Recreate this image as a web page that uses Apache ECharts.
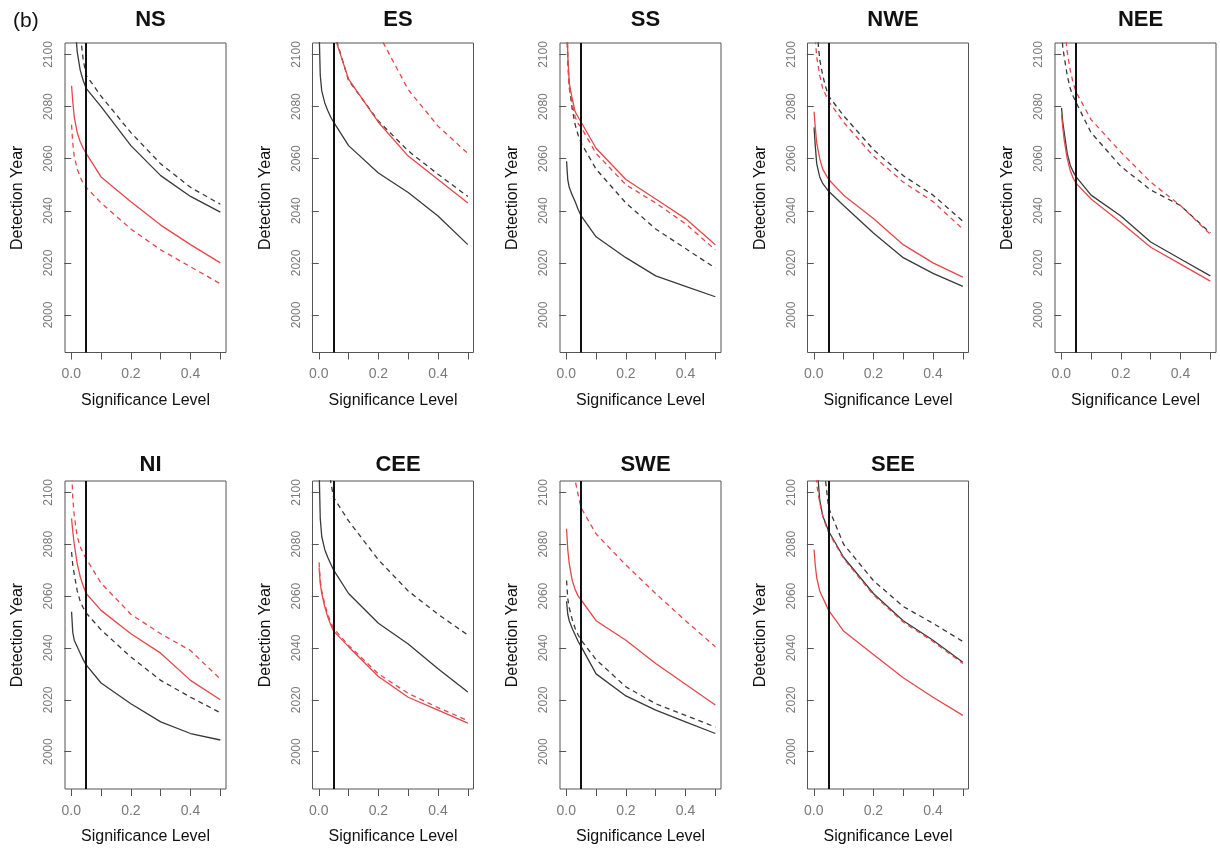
<!DOCTYPE html>
<html>
<head>
<meta charset="utf-8">
<script src="https://cdn.jsdelivr.net/npm/echarts@6/dist/echarts.min.js"></script>
<style>
html,body{margin:0;padding:0;background:#fff;}
#chart{width:1220px;height:850px;}
</style>
</head>
<body>
<div id="chart"></div>
<script>
// Significance levels (x values shared by all curves)
const sigLevels = [0.001, 0.005, 0.01, 0.02, 0.03, 0.04, 0.05, 0.1, 0.2, 0.3, 0.4, 0.5];
const panelNames = ['NS', 'ES', 'SS', 'NWE', 'NEE', 'NI', 'CEE', 'SWE', 'SEE'];
const xTickValues = [0, 0.1, 0.2, 0.3, 0.4, 0.5];
const xLabelValues = [0, 0.2, 0.4];
const yTickValues = [2000, 2020, 2040, 2060, 2080, 2100];
const thresholdLevel = 0.05;

// Detection years, one row per panel (order of panelNames)
const blackSolid = [
  [2160, 2135, 2115, 2101, 2094, 2090, 2087, 2080, 2065, 2053.5, 2045.5, 2039.5], // NS
  [2110, 2092, 2086, 2081.5, 2078.5, 2076, 2074, 2065, 2054.5, 2047, 2038, 2027], // ES
  [2059, 2052, 2049, 2046, 2043.5, 2040.5, 2038, 2030, 2022, 2015, 2011, 2007], // SS
  [2072, 2065, 2058, 2053, 2050.5, 2049, 2047.5, 2042, 2031.5, 2022, 2016, 2011], // NWE
  [2079.5, 2074, 2070, 2062, 2057.5, 2055, 2053, 2046, 2038, 2028, 2021.5, 2015], // NEE
  [2054, 2046, 2043, 2040.5, 2038, 2035.5, 2033.5, 2026.5, 2018.5, 2011.5, 2007, 2004.5], // NI
  [2110, 2090, 2083, 2078, 2075, 2072.5, 2070, 2061, 2049.5, 2041.5, 2032, 2023], // CEE
  [2058, 2053, 2050.5, 2047.5, 2045, 2042.5, 2040.5, 2030, 2021.5, 2016, 2011.5, 2007], // SWE
  [2150, 2125, 2112, 2097, 2091, 2088, 2085, 2075, 2061, 2050.5, 2043, 2034.5]  // SEE
];
const blackDashed = [
  [2200, 2170, 2145, 2120, 2108, 2098, 2092, 2084, 2070, 2058, 2049, 2042.5],
  [2250, 2230, 2210, 2180, 2155, 2135, 2109, 2090, 2074.5, 2063, 2054, 2045.5],
  [2115, 2098, 2088, 2079, 2073, 2069, 2066, 2056, 2043, 2033, 2025.5, 2018],
  [2160, 2130, 2110, 2098, 2092, 2087.5, 2084, 2076.5, 2063.5, 2053.5, 2046, 2036],
  [2108, 2103, 2099, 2092, 2087, 2084, 2081.5, 2070, 2057, 2048, 2042, 2031.5],
  [2077, 2072, 2068.5, 2062, 2058, 2055.5, 2053.5, 2047, 2036.5, 2027.5, 2021, 2015],
  [2220, 2200, 2180, 2150, 2125, 2104, 2098, 2089, 2074, 2062, 2053, 2045],
  [2066, 2059, 2055.5, 2051, 2047.5, 2045, 2043, 2035.5, 2025, 2018.5, 2014, 2009.5],
  [2250, 2220, 2190, 2150, 2120, 2104, 2094, 2080, 2066, 2056, 2049.5, 2042.5]
];
const redSolid = [
  [2088, 2082, 2076, 2070, 2066.5, 2064, 2062, 2053, 2043.5, 2034.5, 2027, 2020],
  [2250, 2230, 2210, 2180, 2155, 2135, 2108, 2090.5, 2074, 2061, 2052, 2043],
  [2130, 2100, 2089, 2083, 2078, 2076, 2074, 2064, 2052, 2044.5, 2037, 2027],
  [2078, 2072, 2066, 2060, 2056, 2054, 2052, 2046, 2037, 2027, 2020, 2014.5],
  [2077, 2072, 2067, 2060, 2055.5, 2052.5, 2050.5, 2044.5, 2035.5, 2026, 2019.5, 2013],
  [2090, 2085, 2080, 2072.5, 2067.5, 2064, 2061, 2054.5, 2045.5, 2038, 2027.5, 2020],
  [2071, 2065, 2061, 2056, 2052, 2049, 2046.5, 2040.5, 2029, 2021, 2016, 2011],
  [2086, 2078, 2072.5, 2066, 2062.5, 2060, 2058.5, 2050.5, 2043, 2034, 2026, 2018],
  [2078, 2072, 2067, 2062, 2059.5, 2057, 2054.5, 2046.5, 2037.5, 2028.5, 2021, 2014]
];
const redDashed = [
  [2073, 2066, 2061, 2056, 2053, 2050.5, 2049, 2043, 2033, 2025, 2018.5, 2012],
  [2400, 2380, 2360, 2330, 2300, 2280, 2260, 2170, 2108, 2086.5, 2072.5, 2062],
  [2125, 2097, 2087, 2081, 2076, 2073.5, 2072, 2062, 2050, 2043, 2035, 2025],
  [2130, 2106, 2099, 2092, 2087, 2084.5, 2082, 2074, 2061, 2051, 2043.5, 2033],
  [2150, 2125, 2112, 2101, 2094, 2089, 2085.5, 2075, 2062.5, 2051, 2042, 2031],
  [2110, 2098, 2091, 2083, 2079, 2076.5, 2074.5, 2065, 2053, 2045.5, 2039, 2028],
  [2073, 2066, 2062, 2057, 2053, 2050, 2047.5, 2041, 2030, 2022.5, 2017, 2012],
  [2180, 2160, 2140, 2115, 2104.5, 2099, 2094, 2084, 2072, 2061, 2050.5, 2040.5],
  [2130, 2112, 2103, 2096, 2091, 2087.5, 2084.5, 2074.5, 2060.5, 2050, 2042.5, 2034]
];

const FONT = '"Liberation Sans", Arial, sans-serif';
const BLACK = '#3a3a3a';
const RED = '#e5474b';

const chart = echarts.init(document.getElementById('chart'), null, {renderer: 'canvas'});

const grids = [], xAxes = [], yAxes = [], series = [], titles = [];
titles.push({text: '(b)', left: 8, top: 6, textStyle: {fontFamily: FONT, fontSize: 21, fontWeight: 'normal', color: '#111'}});

panelNames.forEach((name, i) => {
  const row = i < 5 ? 0 : 1;
  const col = i < 5 ? i : i - 5;
  const left = 65 + 247.5 * col;
  const width = 161;
  const top = row === 0 ? 43 : 481;
  const height = row === 0 ? 309.5 : 308;
  grids.push({left: left, top: top, width: width, height: height, show: true, borderColor: '#555', borderWidth: 1, containLabel: false});
  titles.push({text: name, left: left + width / 2, top: row === 0 ? 4 : 449, textAlign: 'center',
    textStyle: {fontFamily: FONT, fontSize: 22, fontWeight: 'bold', color: '#111'}});
  xAxes.push({
    type: 'value', gridIndex: i, min: -0.021, max: 0.519,
    axisLine: {show: false},
    axisTick: {show: true, inside: false, length: 7, customValues: xTickValues, lineStyle: {color: '#555'}},
    axisLabel: {customValues: xLabelValues, formatter: v => v.toFixed(1), color: '#7a7a7a', fontFamily: FONT, fontSize: 14, margin: 15},
    splitLine: {show: false},
    name: 'Significance Level', nameLocation: 'middle', nameGap: 40,
    nameTextStyle: {fontFamily: FONT, fontSize: 16, color: '#111'}
  });
  yAxes.push({
    type: 'value', gridIndex: i, min: 1985.6, max: 2104.4,
    axisLine: {show: false},
    axisTick: {show: true, inside: false, length: 7, customValues: yTickValues, lineStyle: {color: '#555'}},
    axisLabel: {customValues: yTickValues, formatter: v => String(Math.round(v)), rotate: 90, color: '#7a7a7a', fontFamily: FONT, fontSize: 12, margin: 10},
    splitLine: {show: false},
    name: 'Detection Year', nameLocation: 'middle', nameGap: 39, nameRotate: 90,
    nameTextStyle: {fontFamily: FONT, fontSize: 16, color: '#111'}
  });
  const mk = (vals, color, dashed, extra) => Object.assign({
    type: 'line', xAxisIndex: i, yAxisIndex: i, clip: true, symbol: 'none', smooth: false, silent: true,
    data: sigLevels.map((x, k) => [x, vals[k]]),
    lineStyle: {color: color, width: 1.3, type: dashed ? [5, 4] : 'solid'},
    animation: false
  }, extra || {});
  series.push(mk(blackSolid[i], BLACK, false, {
    markLine: {silent: true, symbol: ['none', 'none'], label: {show: false},
      lineStyle: {color: '#111', width: 2, type: 'solid'}, data: [{xAxis: thresholdLevel}], animation: false}
  }));
  series.push(mk(blackDashed[i], BLACK, true));
  series.push(mk(redSolid[i], RED, false));
  series.push(mk(redDashed[i], RED, true));
});

chart.setOption({
  animation: false,
  backgroundColor: '#fff',
  title: titles,
  grid: grids,
  xAxis: xAxes,
  yAxis: yAxes,
  series: series
});
</script>
</body>
</html>
